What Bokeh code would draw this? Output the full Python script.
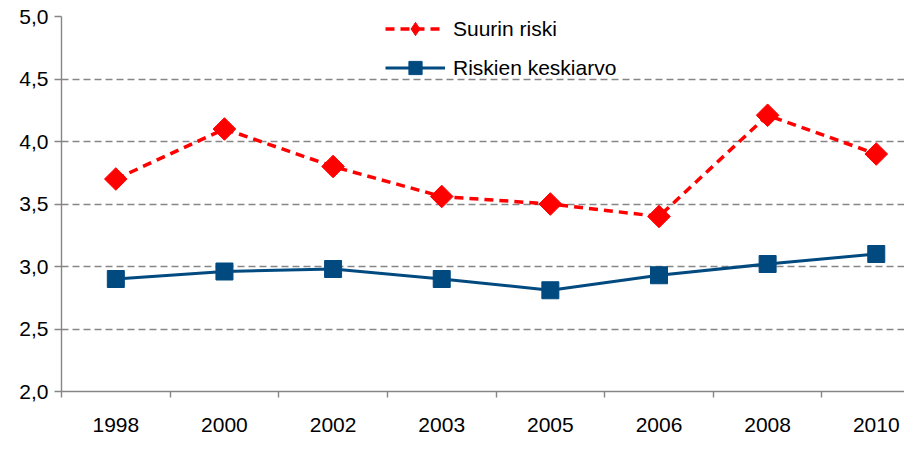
import math
from bokeh.plotting import figure
from bokeh.models import FixedTicker, Range1d, Legend, LegendItem, ColumnDataSource
from bokeh.embed import file_html
from bokeh.resources import INLINE

years = ["1998", "2000", "2002", "2003", "2005", "2006", "2008", "2010"]
suurin_riski = [3.70, 4.10, 3.80, 3.56, 3.50, 3.40, 4.21, 3.90]
riskien_keskiarvo = [2.90, 2.96, 2.98, 2.90, 2.81, 2.93, 3.02, 3.10]
y_ticks = [2.0, 2.5, 3.0, 3.5, 4.0, 4.5, 5.0]
y_tick_labels = ["2,0", "2,5", "3,0", "3,5", "4,0", "4,5", "5,0"]

xs = list(range(len(years)))
FONT = "Liberation Sans"
GRAY = "#868686"
RED = "#ff0000"
BLUE = "#004a80"

p = figure(width=904, height=434, output_backend="svg", toolbar_location=None,
           x_range=Range1d(-0.5, 7.26), y_range=Range1d(2.0, 5.0),
           min_border_left=61, min_border_right=0, min_border_top=16, min_border_bottom=42)
p.outline_line_color = None
p.background_fill_color = "white"
p.border_fill_color = "white"

# grid
p.xgrid.grid_line_color = None
p.ygrid.grid_line_color = GRAY
p.ygrid.grid_line_dash = "7 4"
p.ygrid.grid_line_width = 1.4

# y axis
p.yaxis.ticker = FixedTicker(ticks=y_ticks)
p.yaxis.major_label_overrides = {t: l for t, l in zip(y_ticks, y_tick_labels)}
p.yaxis.axis_line_color = GRAY
p.yaxis.axis_line_width = 1.4
p.yaxis.major_tick_line_color = GRAY
p.yaxis.major_tick_line_width = 1.4
p.yaxis.major_tick_in = 0
p.yaxis.major_tick_out = 7
p.yaxis.minor_tick_line_color = None
p.yaxis.major_label_text_font = FONT
p.yaxis.major_label_text_font_size = "21px"
p.yaxis.major_label_text_color = "black"
p.yaxis.major_label_standoff = 6

# x axis
p.xaxis.ticker = FixedTicker(ticks=xs, minor_ticks=[i - 0.5 for i in range(len(years) + 1)])
p.xaxis.major_label_overrides = {i: y for i, y in zip(xs, years)}
p.xaxis.axis_line_color = GRAY
p.xaxis.axis_line_width = 1.4
p.xaxis.major_tick_line_color = None
p.xaxis.major_tick_in = 0
p.xaxis.major_tick_out = 0
p.xaxis.minor_tick_line_color = GRAY
p.xaxis.minor_tick_line_width = 1.4
p.xaxis.minor_tick_in = 0
p.xaxis.minor_tick_out = 6
p.xaxis.major_label_text_font = FONT
p.xaxis.major_label_text_font_size = "21px"
p.xaxis.major_label_text_color = "black"
p.xaxis.major_label_standoff = 20

src = ColumnDataSource(dict(x=xs, red=suurin_riski, blue=riskien_keskiarvo))

r_line = p.line("x", "red", source=src, line_color=RED, line_width=3.5, line_dash="9 6")
# small diamonds (hidden under the larger rotated squares) give the legend its diamond symbol
r_diam = p.scatter("x", "red", source=src, marker="diamond", size=13,
                   fill_color=RED, line_color=RED)
r_pts = p.scatter("x", "red", source=src, marker="square", angle=math.pi / 4, size=16,
                  fill_color=RED, line_color=RED)
b_line = p.line("x", "blue", source=src, line_color=BLUE, line_width=3)
b_pts = p.scatter("x", "blue", source=src, marker="square", size=17,
                  fill_color=BLUE, line_color=BLUE)

legend = Legend(items=[LegendItem(label="Suurin riski", renderers=[r_line, r_diam]),
                       LegendItem(label="Riskien keskiarvo", renderers=[b_line, b_pts])],
                location=(324, 307), orientation="vertical",
                glyph_width=60, glyph_height=33, label_height=33, spacing=6,
                padding=0, margin=0, label_standoff=8,
                label_text_font=FONT, label_text_font_size="21px", label_text_color="black",
                border_line_color=None, background_fill_alpha=0)
p.add_layout(legend, "center")

open("out.html", "w").write(file_html(p, INLINE))
